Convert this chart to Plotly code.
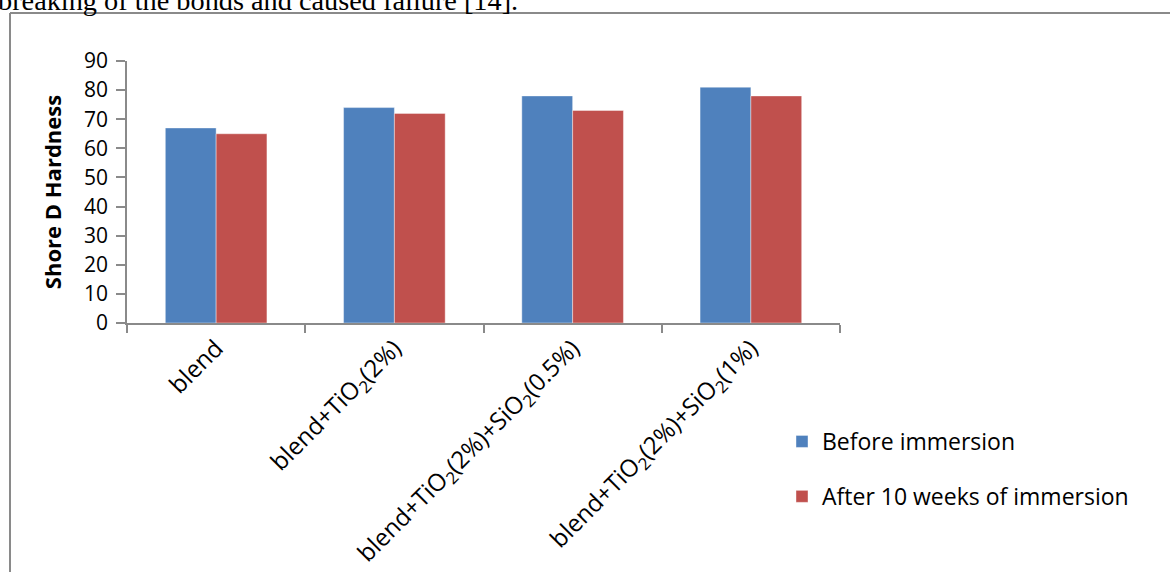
import plotly.graph_objects as go

categories = [
    "blend",
    "blend+TiO<sub>2</sub>(2%)",
    "blend+TiO<sub>2</sub>(2%)+SiO<sub>2</sub>(0.5%)",
    "blend+TiO<sub>2</sub>(2%)+SiO<sub>2</sub>(1%)",
]
before_immersion = [67, 74, 78, 81]
after_immersion = [65, 72, 73, 78]
y_ticks = [0, 10, 20, 30, 40, 50, 60, 70, 80, 90]

W, H = 1170, 572
ML, MR, MT, MB = 127, 330, 61, 249
PW, PH = W - ML - MR, H - MT - MB


def px_x(px):
    return (px - ML) / PW


def px_y(py):
    return (H - MB - py) / PH


FONT = "Open Sans"
AXIS_COLOR = "#8a8a8a"

fig = go.Figure()
fig.add_trace(go.Bar(
    x=categories, y=before_immersion, name="Before immersion",
    marker=dict(color="#4F81BD", line=dict(color="rgba(255,255,255,0.5)", width=0.8)),
    legendgroup="a",
))
fig.add_trace(go.Bar(
    x=categories, y=after_immersion, name="After 10 weeks of immersion",
    marker=dict(color="#C0504D", line=dict(color="rgba(255,255,255,0.5)", width=0.8)),
    legendgroup="b",
))

fig.update_layout(
    width=W, height=H,
    margin=dict(l=ML, r=MR, t=MT, b=MB, pad=0, autoexpand=False),
    paper_bgcolor="white", plot_bgcolor="white",
    barmode="group", bargap=0.43, bargroupgap=0,
    font=dict(family=FONT, size=22, color="black"),
    legend=dict(
        x=px_x(782), y=px_y(420), xanchor="left", yanchor="top",
        xref="paper", yref="paper",
        font=dict(family=FONT, size=23, color="black"),
        tracegroupgap=22, itemwidth=30,
        bgcolor="rgba(0,0,0,0)",
    ),
    xaxis=dict(
        range=[-0.5, 3.5], tickangle=-45, tickson="boundaries",
        automargin=False,
        showline=True, linecolor=AXIS_COLOR, linewidth=1.5,
        ticks="outside", ticklen=8, tickcolor=AXIS_COLOR, tickwidth=1.5,
        showgrid=False, zeroline=False,
        tickfont=dict(family=FONT, size=24, color="black"),
    ),
    yaxis=dict(
        range=[0, 90], tickvals=y_ticks,
        automargin=False,
        showline=True, linecolor=AXIS_COLOR, linewidth=1.5,
        ticks="outside", ticklen=9, tickcolor=AXIS_COLOR, tickwidth=1.5,
        showgrid=False, zeroline=False,
        ticklabelstandoff=4,
        tickfont=dict(family=FONT, size=21, color="black"),
        title=dict(text="<b>Shore D Hardness</b>", standoff=16,
                   font=dict(family=FONT, size=22, color="black")),
    ),
)

# page frame around the chart and the text line above it
fig.add_shape(type="line", xref="paper", yref="paper",
              x0=px_x(10), x1=px_x(10), y0=px_y(13), y1=px_y(H + 10),
              line=dict(color="#8a8a8a", width=2))
fig.add_shape(type="line", xref="paper", yref="paper",
              x0=px_x(10), x1=px_x(W + 10), y0=px_y(13), y1=px_y(13),
              line=dict(color="#8a8a8a", width=2))
fig.add_annotation(
    text="breaking of the bonds and caused failure [14].",
    xref="paper", yref="paper", x=px_x(-4), y=px_y(18),
    xanchor="left", yanchor="bottom", showarrow=False,
    font=dict(family="Liberation Serif", size=28.3, color="black"),
)

fig.write_html("out.html")
